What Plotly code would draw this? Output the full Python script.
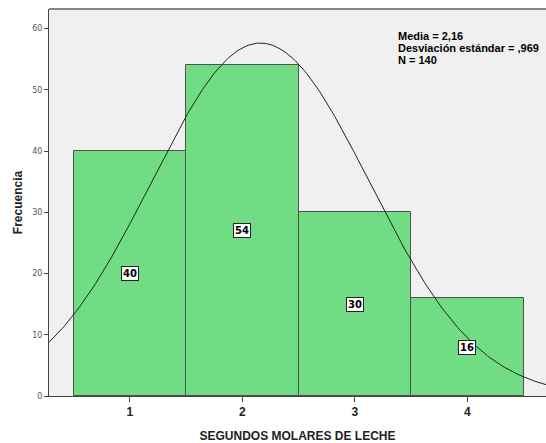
import numpy as np
import plotly.graph_objects as go

categories = [1, 2, 3, 4]
counts = [40, 54, 30, 16]
mean_val = 2.16
std_val = 0.969
n_val = 140
y_ticks = [0, 10, 20, 30, 40, 50, 60]
stats_lines = ["Media = 2,16", "Desviación estándar = ,969", "N = 140"]

x_range = [0.28, 4.70]
y_range = [0, 63.2]

xs = np.linspace(x_range[0], x_range[1], 300)
ys = n_val * 1.0 / (std_val * np.sqrt(2 * np.pi)) * np.exp(-(xs - mean_val) ** 2 / (2 * std_val ** 2))

fig = go.Figure()
fig.add_trace(go.Bar(
    x=categories, y=counts, width=1,
    marker=dict(color="#70DC84", line=dict(color="#505050", width=1)),
    hoverinfo="skip",
))
fig.add_trace(go.Scatter(
    x=xs, y=ys, mode="lines",
    line=dict(color="#222222", width=1),
    hoverinfo="skip",
))

annotations = []
for c, v in zip(categories, counts):
    annotations.append(dict(
        x=c, y=v / 2, xref="x", yref="y", text="<b>%d</b>" % v,
        showarrow=False, bgcolor="white", bordercolor="#222222", borderwidth=1,
        borderpad=1, font=dict(family="DejaVu Sans", size=10, color="black"),
    ))
for i, line in enumerate(stats_lines):
    annotations.append(dict(
        x=3.37, y=58.8 - 1.96 * i, xref="x", yref="y", xanchor="left", yanchor="middle",
        align="left", showarrow=False, text="<b>%s</b>" % line,
        font=dict(family="Liberation Sans", size=11, color="black"),
    ))

fig.update_layout(
    width=546, height=443,
    margin=dict(l=49, r=0, t=9, b=47),
    paper_bgcolor="white", plot_bgcolor="#F0F0F0",
    showlegend=False,
    bargap=0,
    annotations=annotations,
    xaxis=dict(
        range=x_range, tickvals=categories, ticktext=["<b>%d</b>" % c for c in categories],
        ticks="outside", ticklen=5, tickcolor="#444444", showgrid=False, zeroline=False,
        showline=True, linecolor="#444444", linewidth=1, automargin=False,
        tickfont=dict(family="Liberation Sans", size=12, color="#222222"),
        title=dict(text="<b>SEGUNDOS MOLARES DE LECHE</b>", standoff=14,
                   font=dict(family="Liberation Sans", size=12, color="#222222")),
    ),
    yaxis=dict(
        range=y_range, tickvals=y_ticks,
        ticks="outside", ticklen=4, tickcolor="#444444", showgrid=False, zeroline=False,
        showline=True, linecolor="#444444", linewidth=1, automargin=False,
        tickfont=dict(family="DejaVu Sans", size=8, color="#555555"),
        title=dict(text="<b>Frecuencia</b>", standoff=7,
                   font=dict(family="Liberation Sans", size=12, color="#222222")),
    ),
    shapes=[dict(type="line", xref="paper", yref="paper", x0=0, x1=1, y0=1, y1=1,
                 line=dict(color="#888888", width=2))],
)

fig.write_html("out.html", config={"displayModeBar": False},
               post_script="document.body.style.margin='0';document.body.style.overflow='hidden';")
